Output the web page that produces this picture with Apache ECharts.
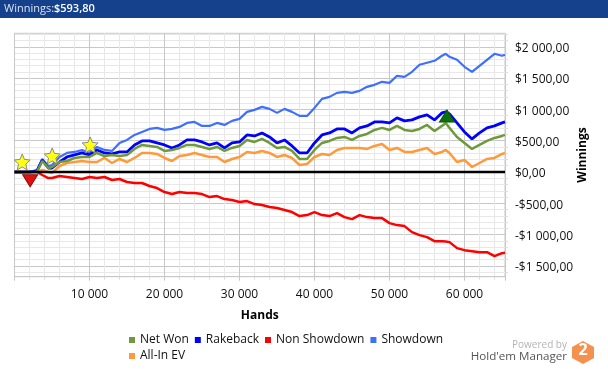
<!DOCTYPE html>
<html>
<head>
<meta charset="utf-8">
<title>Winnings</title>
<script src="https://cdn.jsdelivr.net/npm/echarts@6/dist/echarts.min.js"></script>
<style>
html, body { margin: 0; padding: 0; background: #fff; }
#chart { width: 608px; height: 369px; }
</style>
</head>
<body>
<div id="chart"></div>
<script>
var hands = [0, 1000, 2000, 3000, 3700, 4500, 5000, 6000, 7000, 8000, 9000, 10000, 11000, 12000, 13000, 14000, 15000, 16000, 17000, 18000, 19000, 20000, 21000, 22000, 23000, 24000, 25000, 26000, 27000, 28000, 29000, 30000, 31000, 32000, 33000, 34000, 35000, 36000, 37000, 38000, 39000, 40000, 41000, 42000, 43000, 44000, 45000, 46000, 47000, 48000, 49000, 50000, 51000, 52000, 53000, 54000, 55000, 56000, 57000, 57500, 58000, 59000, 60000, 61000, 62000, 63000, 64000, 65000, 65400]
var netWon = [0, 0, 0, 0, 176, 64, 80, 160, 176, 224, 240, 240, 304, 256, 272, 256, 272, 368, 432, 416, 400, 336, 352, 384, 432, 432, 400, 368, 400, 336, 384, 416, 512, 480, 528, 464, 384, 400, 336, 208, 208, 352, 464, 496, 544, 560, 512, 576, 608, 672, 704, 672, 736, 672, 656, 688, 752, 656, 736, 784, 704, 560, 464, 368, 432, 496, 544, 576, 593.8]
var rakeback = [0, 0, 0, 16, 192, 64, 64, 160, 240, 272, 304, 272, 352, 304, 288, 320, 320, 432, 496, 496, 464, 432, 384, 432, 512, 512, 480, 432, 464, 384, 464, 480, 592, 576, 624, 560, 464, 512, 416, 304, 304, 464, 592, 624, 688, 688, 624, 704, 736, 800, 800, 784, 864, 816, 832, 880, 912, 832, 944, 960, 928, 784, 640, 528, 624, 704, 736, 784, 800]
var nonShowdown = [0, 0, 0, 0, -48, -96, -96, -64, -80, -96, -112, -80, -96, -80, -128, -112, -160, -176, -176, -224, -256, -320, -352, -320, -336, -336, -352, -400, -384, -432, -448, -480, -464, -512, -528, -560, -576, -608, -640, -704, -688, -640, -688, -704, -656, -720, -752, -688, -720, -736, -736, -816, -848, -864, -960, -1008, -1040, -1104, -1104, -1110, -1120, -1216, -1248, -1264, -1280, -1280, -1344, -1296, -1290]
var showdown = [0, 0, 0, 32, 208, 96, 112, 240, 304, 320, 352, 304, 400, 352, 336, 464, 512, 592, 640, 688, 704, 672, 688, 720, 784, 800, 736, 736, 784, 752, 816, 848, 960, 992, 1040, 1008, 944, 1008, 960, 896, 896, 1024, 1168, 1200, 1264, 1280, 1264, 1296, 1360, 1392, 1440, 1424, 1536, 1520, 1600, 1712, 1744, 1776, 1856, 1888, 1840, 1792, 1680, 1600, 1696, 1792, 1888, 1856, 1872]
var allInEv = [0, 0, 0, 0, 32, 0, -16, 96, 144, 160, 176, 160, 160, 224, 144, 208, 160, 224, 304, 304, 288, 224, 176, 256, 272, 304, 272, 240, 240, 160, 208, 240, 320, 304, 336, 304, 240, 272, 224, 112, 128, 240, 288, 272, 352, 384, 384, 384, 368, 416, 448, 352, 384, 320, 320, 352, 384, 288, 320, 352, 304, 160, 192, 80, 144, 208, 224, 288, 304]

var starPoints = [[1030, 160], [5030, 256], [10090, 432]]
var lowPoint = [[2090, -140]]
var highPoint = [[57660, 894]]
var zeroLine = [[0, 0], [65400, 0]]
var yMajorTicks = [-1500, -1000, -500, 0, 500, 1000, 1500, 2000]
var yMinorTicks = [-1600, -1400, -1300, -1200, -1100, -900, -800, -700, -600, -400, -300, -200, -100, 100, 200, 300, 400, 600, 700, 800, 900, 1100, 1200, 1300, 1400, 1600, 1700, 1800, 1900, 2100, 2200]

var font = '"Open Sans", sans-serif'
var starPath = 'path://M50 0 L64 32 L100 36 L73 60 L81 95 L50 77 L19 95 L27 60 L0 36 L36 32 Z'

function pairs(values) {
	return hands.map(function (h, i) {
		return [h, values[i]]
	})
}

function lineSeries(name, color, values, z, width) {
	return {
		name: name,
		type: 'line',
		data: pairs(values),
		showSymbol: false,
		symbol: 'none',
		silent: true,
		z: z,
		lineStyle: { color: color, width: width },
		itemStyle: { color: color }
	}
}

function formatMoney(v) {
	var s = String(Math.abs(v)).replace(/\B(?=(\d{3})+$)/g, ' ')
	return (v < 0 ? '-' : '') + '$' + s + ',00'
}

var legendBase = {
	left: 129,
	icon: 'rect',
	itemWidth: 6,
	itemHeight: 6,
	itemGap: 6,
	padding: 0,
	textStyle: { fontFamily: font, fontSize: 12, color: '#111' }
}

var chart = echarts.init(document.getElementById('chart'), null, { renderer: 'canvas' })

chart.setOption({
	animation: false,
	backgroundColor: '#fff',
	textStyle: { fontFamily: font },
	grid: { show: true, borderColor: '#c8c8c8', borderWidth: 1, left: 14.5, top: 33.3, width: 490.5, height: 243.4 },
	legend: [
		Object.assign({}, legendBase, { top: 334, data: ['Net Won', 'Rakeback', 'Non Showdown', 'Showdown'] }),
		Object.assign({}, legendBase, { top: 350, data: ['All-In EV'] })
	],
	xAxis: {
		type: 'value',
		min: 0,
		max: 65400,
		interval: 10000,
		name: 'Hands',
		nameLocation: 'middle',
		nameGap: 33,
		nameTextStyle: { fontFamily: font, fontSize: 12, fontWeight: 'bold', color: '#000' },
		axisLine: { onZero: false, lineStyle: { color: '#c8c8c8', width: 1 } },
		axisTick: { show: true, length: 4, lineStyle: { color: '#c8c8c8' } },
		minorTick: { show: true, splitNumber: 5, length: 3, lineStyle: { color: '#dcdcdc' } },
		axisLabel: {
			color: '#111',
			fontSize: 12,
			margin: 12,
			showMinLabel: false,
			showMaxLabel: false,
			formatter: function (v) {
				return String(v).replace(/\B(?=(\d{3})+$)/g, ' ')
			}
		},
		splitLine: { show: true, lineStyle: { color: '#c8c8c8', width: 1 } },
		minorSplitLine: { show: true, lineStyle: { color: '#e8e8e8', width: 1 } }
	},
	yAxis: [
		{
			type: 'value',
			min: -1672,
			max: 2215,
			position: 'right',
			axisLine: { show: false, onZero: false },
			axisTick: { show: true, length: 3, customValues: yMinorTicks, lineStyle: { color: '#dcdcdc' } },
			axisLabel: { show: false },
			splitLine: { show: true, lineStyle: { color: '#e8e8e8', width: 1 } }
		},
		{
			type: 'value',
			min: -1672,
			max: 2215,
			position: 'right',
			name: 'Winnings',
			nameLocation: 'middle',
			nameRotate: 90,
			nameGap: 72,
			nameMoveOverlap: false,
			nameTextStyle: { fontFamily: font, fontSize: 12, fontWeight: 'bold', color: '#000' },
			axisLine: { show: false },
			axisTick: { show: true, length: 5, customValues: yMajorTicks, lineStyle: { color: '#c8c8c8' } },
			axisLabel: { color: '#111', fontSize: 12, margin: 10, verticalAlign: 'top', lineHeight: 4, customValues: yMajorTicks, formatter: formatMoney },
			splitLine: { show: true, lineStyle: { color: '#c8c8c8', width: 1 } }
		}
	],
	series: [
		lineSeries('Net Won', '#6f9a3c', netWon, 5, 2.5),
		lineSeries('Rakeback', '#0000ff', rakeback, 4, 2.8),
		lineSeries('Non Showdown', '#ff0000', nonShowdown, 3, 2.5),
		lineSeries('Showdown', '#3f6fff', showdown, 3, 2.2),
		lineSeries('All-In EV', '#ff9a3c', allInEv, 3, 2.5),
		{
			name: 'zero',
			type: 'line',
			data: zeroLine,
			symbol: 'none',
			silent: true,
			z: 6,
			lineStyle: { color: '#000', width: 2.5 }
		},
		{
			name: 'stars',
			type: 'scatter',
			data: starPoints,
			symbol: starPath,
			symbolSize: 16,
			silent: true,
			z: 8,
			itemStyle: { color: '#ffff14', borderColor: '#8a8a8a', borderWidth: 1, opacity: 1 }
		},
		{
			name: 'low',
			type: 'scatter',
			data: lowPoint,
			symbol: 'triangle',
			symbolRotate: 180,
			symbolSize: [15, 12],
			silent: true,
			z: 8,
			itemStyle: { color: '#e01010', borderColor: '#8a1010', borderWidth: 1, opacity: 1 }
		},
		{
			name: 'high',
			type: 'scatter',
			data: highPoint,
			symbol: 'triangle',
			symbolSize: [15, 12],
			silent: true,
			z: 8,
			itemStyle: { color: '#0a700a', borderColor: '#0a5a0a', borderWidth: 1, opacity: 1 }
		}
	],
	graphic: [
		{ type: 'rect', shape: { x: 0, y: 0, width: 608, height: 18 }, style: { fill: '#15418c' } },
		{
			type: 'text', x: 4, y: 3,
			style: { text: 'Winnings:', fill: '#d9e2f0', font: '11px ' + font }
		},
		{
			type: 'text', x: 54, y: 3,
			style: { text: '$593,80', fill: '#ffffff', font: '600 11px ' + font }
		},
		{
			type: 'text', x: 567, y: 340, style: { text: 'Powered by', fill: '#b4b4b4', font: '10px ' + font, align: 'right' }
		},
		{
			type: 'text', x: 567, y: 351, style: { text: "Hold'em Manager", fill: '#555555', font: '11.6px ' + font, align: 'right' }
		},
		{
			type: 'polygon',
			shape: { points: [[583, 341], [594, 347], [594, 358], [583, 364], [572, 358], [572, 347]] },
			style: { fill: '#f5914f' }
		},
		{
			type: 'text', x: 583, y: 342, style: { text: '2', fill: '#ffffff', font: 'bold 16px ' + font, align: 'center' }
		}
	]
})
</script>
</body>
</html>
